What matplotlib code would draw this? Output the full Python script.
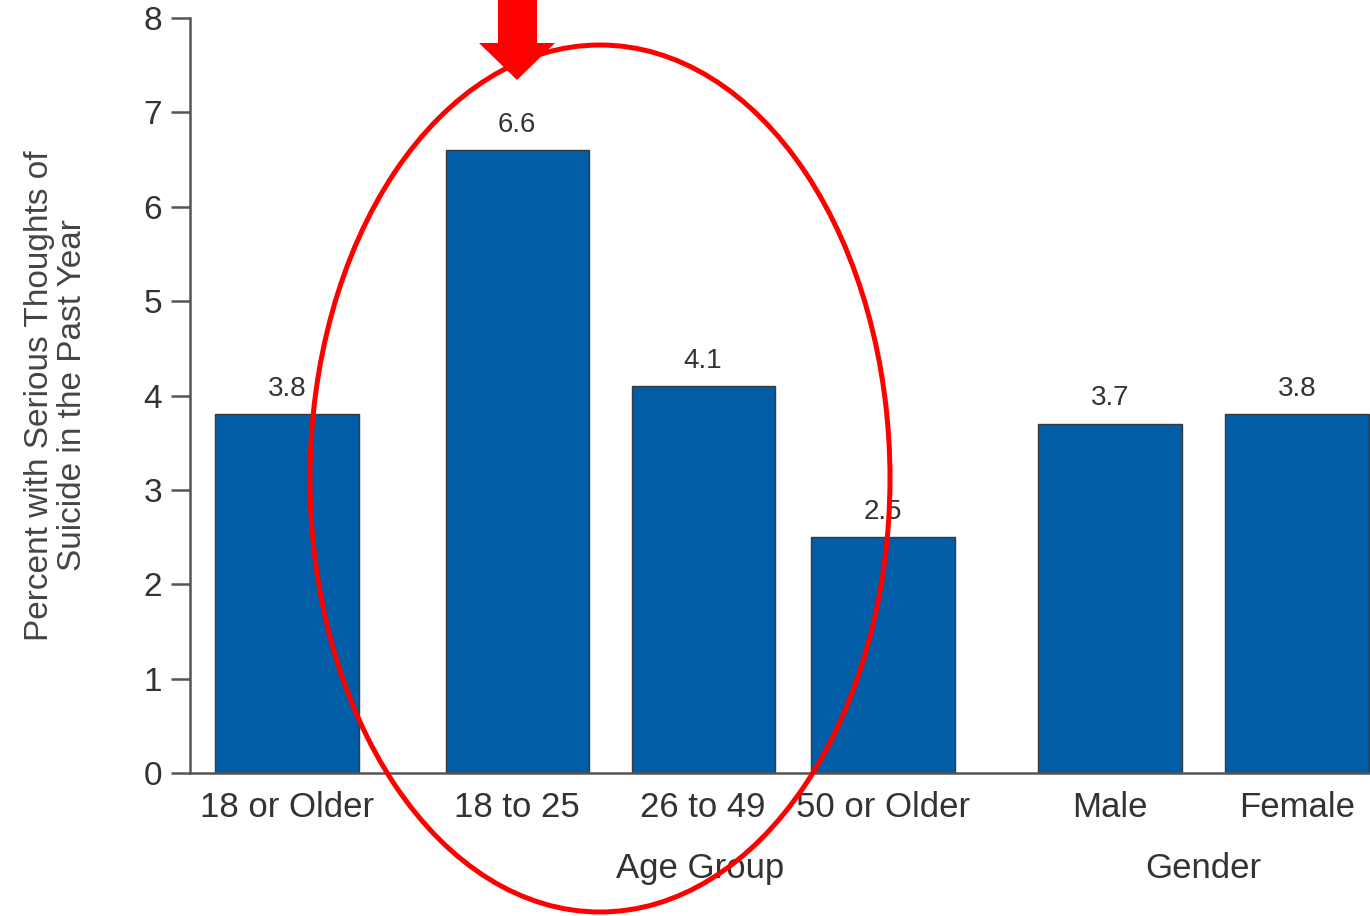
import matplotlib.pyplot as plt
import matplotlib.patches as patches
import matplotlib.transforms as transforms

plt.rcParams['font.family'] = ['Liberation Sans', 'DejaVu Sans']

# Data
categories = ['18 or Older', '18 to 25', '26 to 49', '50 or Older', 'Male', 'Female']
percents = [3.8, 6.6, 4.1, 2.5, 3.7, 3.8]
groups = ['Age Group', 'Gender']
group_members = [(1, 3), (4, 5)]

# Layout
positions = [0, 1.237, 2.237, 3.204, 4.425, 5.43]
BAR_WIDTH = 0.77
BAR_COLOR = '#005da6'
GRAY = '#555555'
TEXT = '#333333'

W, H = 1370, 916
fig = plt.figure(figsize=(W / 100, H / 100), dpi=100)
ax = fig.add_axes([190 / W, 143 / H, 1 - 190 / W, 755 / H])

ax.bar(positions, percents, width=BAR_WIDTH, color=BAR_COLOR,
       edgecolor='#3a3a3a', linewidth=1.0, zorder=2)

for x, v in zip(positions, percents):
    ax.annotate(f'{v:.1f}', (x, v), xytext=(0, 9), textcoords='offset points',
                ha='center', va='bottom', fontsize=20, color=TEXT)

ax.set_xlim(-0.522, 5.823)
ax.set_ylim(0, 8)
ax.set_yticks(range(0, 9))
ax.set_xticks(positions)
ax.set_xticklabels(categories)

for side in ['top', 'right']:
    ax.spines[side].set_visible(False)
for side in ['left', 'bottom']:
    ax.spines[side].set_color(GRAY)
    ax.spines[side].set_linewidth(1.8)

ax.tick_params(axis='y', length=14, width=1.8, color=GRAY, pad=6,
               labelsize=24, labelcolor=TEXT)
ax.tick_params(axis='x', length=0, pad=13, labelsize=25, labelcolor=TEXT)

ax.set_ylabel('Percent with Serious Thoughts of\nSuicide in the Past Year',
              fontsize=24, color='#444444', labelpad=40, linespacing=1.1)

# group captions under the category labels
blend = transforms.blended_transform_factory(ax.transData, ax.transAxes)
for name, (i, j) in zip(groups, group_members):
    xc = (positions[i] + positions[j]) / 2
    ax.text(xc, -0.126, name, transform=blend, ha='center', va='center',
            fontsize=25, color=TEXT)


def px(x, y):
    return (x / W, 1 - y / H)


# red highlight ellipse around the age bands
ring = patches.Ellipse(px(600, 478.5), 580 / W, 867 / H, transform=fig.transFigure,
                       fill=False, edgecolor='#ff0000', linewidth=3.6, zorder=10)
fig.add_artist(ring)

# red arrow pointing at the 18 to 25 bar
arrow_pts = [px(498, -5), px(537, -5), px(537, 43), px(555, 43),
             px(517, 80), px(479, 43), px(498, 43)]
arrow = patches.Polygon(arrow_pts, closed=True, transform=fig.transFigure,
                        facecolor='#ff0000', edgecolor='none', zorder=11)
fig.add_artist(arrow)

fig.savefig('out.png', dpi=100)
